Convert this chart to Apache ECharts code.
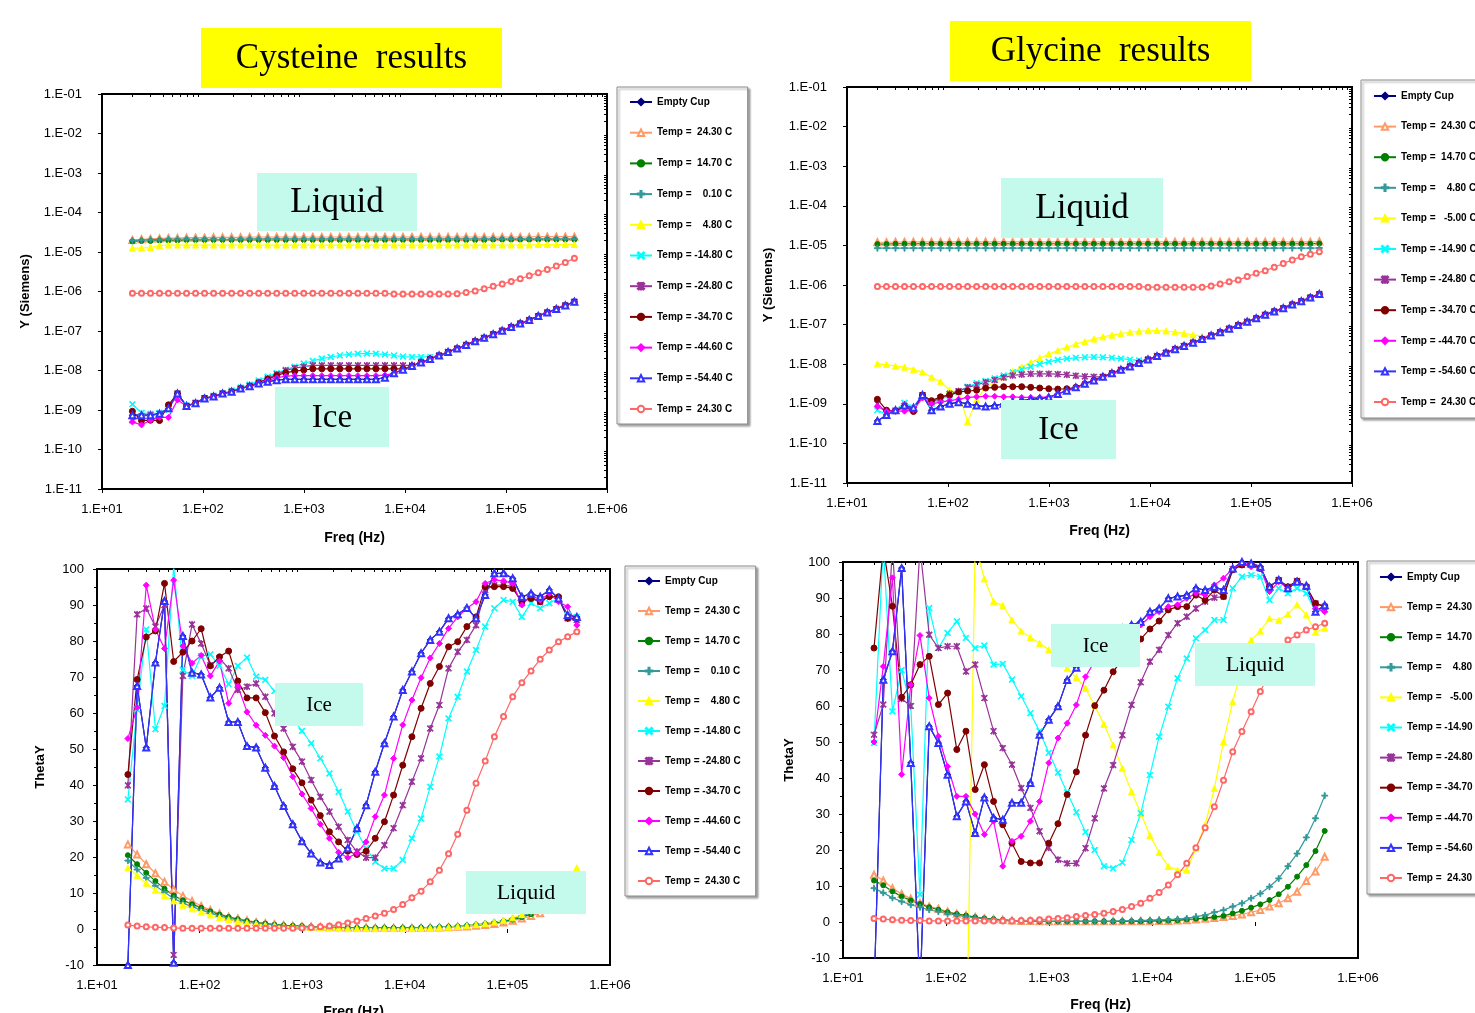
<!DOCTYPE html>
<html><head><meta charset="utf-8">
<script src="https://cdn.jsdelivr.net/npm/echarts@6/dist/echarts.min.js"></script>
<style>html,body{margin:0;padding:0;background:#fff}#c{width:1475px;height:1013px}</style>
</head><body><div id="c"></div><script>
// ---------------- DATA ----------------
const freq = [20,24.6,30.2,37.1,45.5,55.9,68.7,84.4,103.6,127.3,
156.3,192,235.8,289.7,355.8,437,536.8,659.3,809.8,994.7,
1222,1501,1843,2264,2781,3416,4195,5153,6330,7774,
9550,11730,14410,17700,21740,26700,32800,40290,49480,60780,
74650,91700,112600,138300,169900,208700,256300,314900,386700,475000];

const xTickValues = [10,100,1000,10000,100000,1000000];
const yTickValuesLog = [1e-11,1e-10,1e-9,1e-8,1e-7,1e-6,1e-5,1e-4,1e-3,1e-2,1e-1];

const cysNames = ['Empty Cup','Temp =  24.30 C','Temp =  14.70 C','Temp =    0.10 C','Temp =    4.80 C','Temp = -14.80 C','Temp = -24.80 C','Temp = -34.70 C','Temp = -44.60 C','Temp = -54.40 C','Temp =  24.30 C'];
const glyNames = ['Empty Cup','Temp =  24.30 C','Temp =  14.70 C','Temp =    4.80 C','Temp =   -5.00 C','Temp = -14.90 C','Temp = -24.80 C','Temp = -34.70 C','Temp = -44.70 C','Temp = -54.60 C','Temp =  24.30 C'];

// ---- Cysteine : Y (Siemens) ----
const cysY_empty = [7.4e-10,7.4e-10,7.4e-10,8.0e-10,1.1e-9,2.6e-9,1.26e-9,1.48e-9,1.95e-9,2.2e-9,
2.6e-9,2.9e-9,3.5e-9,4.0e-9,4.7e-9,5.2e-9,5.7e-9,6.0e-9,6.0e-9,6.0e-9,
6.0e-9,6.0e-9,6.0e-9,6.0e-9,6.0e-9,6.0e-9,6.0e-9,6.0e-9,6.6e-9,8.5e-9,
1.05e-8,1.3e-8,1.6e-8,1.95e-8,2.4e-8,2.95e-8,3.6e-8,4.45e-8,5.5e-8,6.7e-8,
8.3e-8,1.02e-7,1.26e-7,1.55e-7,1.9e-7,2.4e-7,2.95e-7,3.6e-7,4.45e-7,5.5e-7];
const cysY_p2430 = [2.0e-5,2.1e-5,2.15e-5,2.2e-5,2.25e-5,2.25e-5,2.3e-5,2.3e-5,2.3e-5,2.35e-5,
2.35e-5,2.35e-5,2.35e-5,2.4e-5,2.4e-5,2.4e-5,2.4e-5,2.4e-5,2.4e-5,2.4e-5,
2.4e-5,2.4e-5,2.4e-5,2.4e-5,2.4e-5,2.4e-5,2.4e-5,2.4e-5,2.4e-5,2.4e-5,
2.4e-5,2.4e-5,2.4e-5,2.4e-5,2.4e-5,2.4e-5,2.4e-5,2.4e-5,2.4e-5,2.4e-5,
2.4e-5,2.4e-5,2.4e-5,2.4e-5,2.4e-5,2.45e-5,2.45e-5,2.45e-5,2.45e-5,2.45e-5];
const cysY_p1470 = [1.85e-5,1.9e-5,1.9e-5,1.95e-5,1.95e-5,1.95e-5,2.0e-5,2.0e-5,2.0e-5,2.0e-5,
2.0e-5,2.0e-5,2.0e-5,2.0e-5,2.0e-5,2.0e-5,2.0e-5,2.0e-5,2.0e-5,2.0e-5,
2.0e-5,2.0e-5,2.0e-5,2.0e-5,2.0e-5,2.0e-5,2.0e-5,2.0e-5,2.0e-5,2.0e-5,
2.0e-5,2.0e-5,2.0e-5,2.0e-5,2.0e-5,2.0e-5,2.0e-5,2.0e-5,2.0e-5,2.0e-5,
2.05e-5,2.05e-5,2.05e-5,2.05e-5,2.05e-5,2.05e-5,2.05e-5,2.05e-5,2.05e-5,2.05e-5];
const cysY_p010 = [1.95e-5,2.0e-5,2.05e-5,2.05e-5,2.1e-5,2.1e-5,2.1e-5,2.1e-5,2.1e-5,2.1e-5,
2.1e-5,2.1e-5,2.1e-5,2.15e-5,2.15e-5,2.15e-5,2.15e-5,2.15e-5,2.15e-5,2.15e-5,
2.15e-5,2.15e-5,2.15e-5,2.15e-5,2.15e-5,2.15e-5,2.15e-5,2.15e-5,2.15e-5,2.15e-5,
2.15e-5,2.15e-5,2.15e-5,2.15e-5,2.15e-5,2.15e-5,2.15e-5,2.15e-5,2.15e-5,2.15e-5,
2.15e-5,2.15e-5,2.15e-5,2.15e-5,2.15e-5,2.15e-5,2.15e-5,2.15e-5,2.15e-5,2.15e-5];
const cysY_p480 = [1.25e-5,1.25e-5,1.3e-5,1.45e-5,1.5e-5,1.5e-5,1.5e-5,1.5e-5,1.5e-5,1.5e-5,
1.5e-5,1.5e-5,1.5e-5,1.5e-5,1.5e-5,1.5e-5,1.5e-5,1.5e-5,1.5e-5,1.5e-5,
1.5e-5,1.5e-5,1.5e-5,1.5e-5,1.5e-5,1.5e-5,1.5e-5,1.5e-5,1.5e-5,1.5e-5,
1.5e-5,1.5e-5,1.5e-5,1.5e-5,1.5e-5,1.5e-5,1.5e-5,1.5e-5,1.5e-5,1.5e-5,
1.5e-5,1.5e-5,1.5e-5,1.5e-5,1.5e-5,1.55e-5,1.55e-5,1.55e-5,1.55e-5,1.55e-5];
const cysY_m1480 = [1.4e-9,8.5e-10,8.0e-10,8.5e-10,1.0e-9,2.6e-9,1.3e-9,1.55e-9,2.0e-9,2.3e-9,
2.7e-9,3.1e-9,3.7e-9,4.4e-9,5.6e-9,7.0e-9,8.6e-9,1.05e-8,1.25e-8,1.5e-8,
1.75e-8,2.0e-8,2.2e-8,2.4e-8,2.55e-8,2.65e-8,2.7e-8,2.65e-8,2.55e-8,2.4e-8,
2.25e-8,2.2e-8,2.2e-8,2.2e-8,2.4e-8,2.95e-8,3.6e-8,4.45e-8,5.5e-8,6.7e-8,
8.3e-8,1.02e-7,1.26e-7,1.55e-7,1.9e-7,2.4e-7,2.95e-7,3.6e-7,4.45e-7,5.5e-7];
const cysY_m2480 = [5.5e-10,7.0e-10,7.4e-10,8.0e-10,1.1e-9,2.6e-9,1.26e-9,1.5e-9,2.0e-9,2.2e-9,
2.6e-9,2.9e-9,3.5e-9,4.1e-9,5.0e-9,6.3e-9,8.0e-9,1.0e-8,1.15e-8,1.25e-8,
1.35e-8,1.35e-8,1.35e-8,1.35e-8,1.35e-8,1.35e-8,1.35e-8,1.35e-8,1.35e-8,1.35e-8,
1.35e-8,1.35e-8,1.6e-8,1.95e-8,2.4e-8,2.95e-8,3.6e-8,4.45e-8,5.5e-8,6.7e-8,
8.3e-8,1.02e-7,1.26e-7,1.55e-7,1.9e-7,2.4e-7,2.95e-7,3.6e-7,4.45e-7,5.5e-7];
const cysY_m3470 = [9.3e-10,5.4e-10,5.5e-10,5.4e-10,1.35e-9,2.6e-9,1.26e-9,1.5e-9,2.0e-9,2.2e-9,
2.6e-9,2.9e-9,3.5e-9,4.0e-9,4.9e-9,6.0e-9,7.5e-9,8.8e-9,9.6e-9,1.03e-8,
1.1e-8,1.1e-8,1.1e-8,1.1e-8,1.1e-8,1.1e-8,1.1e-8,1.1e-8,1.1e-8,1.1e-8,
1.1e-8,1.3e-8,1.6e-8,1.95e-8,2.4e-8,2.95e-8,3.6e-8,4.45e-8,5.5e-8,6.7e-8,
8.3e-8,1.02e-7,1.26e-7,1.55e-7,1.9e-7,2.4e-7,2.95e-7,3.6e-7,4.45e-7,5.5e-7];
const cysY_m4460 = [5.0e-10,4.2e-10,5.5e-10,6.5e-10,6.5e-10,1.8e-9,1.26e-9,1.48e-9,1.95e-9,2.2e-9,
2.6e-9,2.9e-9,3.5e-9,4.0e-9,4.8e-9,5.6e-9,6.5e-9,7.2e-9,7.4e-9,7.4e-9,
7.4e-9,7.4e-9,7.4e-9,7.4e-9,7.4e-9,7.4e-9,7.4e-9,7.4e-9,7.6e-9,8.5e-9,
1.05e-8,1.3e-8,1.6e-8,1.95e-8,2.4e-8,2.95e-8,3.6e-8,4.45e-8,5.5e-8,6.7e-8,
8.3e-8,1.02e-7,1.26e-7,1.55e-7,1.9e-7,2.4e-7,2.95e-7,3.6e-7,4.45e-7,5.5e-7];
const cysY_m5440 = [7.4e-10,7.4e-10,7.4e-10,8.0e-10,1.1e-9,2.6e-9,1.26e-9,1.48e-9,1.95e-9,2.2e-9,
2.6e-9,2.9e-9,3.5e-9,4.0e-9,4.7e-9,5.2e-9,5.7e-9,6.0e-9,6.0e-9,6.0e-9,
6.0e-9,6.0e-9,6.0e-9,6.0e-9,6.0e-9,6.0e-9,6.0e-9,6.0e-9,6.6e-9,8.5e-9,
1.05e-8,1.3e-8,1.6e-8,1.95e-8,2.4e-8,2.95e-8,3.6e-8,4.45e-8,5.5e-8,6.7e-8,
8.3e-8,1.02e-7,1.26e-7,1.55e-7,1.9e-7,2.4e-7,2.95e-7,3.6e-7,4.45e-7,5.5e-7];
const cysY_r2430 = [9.0e-7,9.0e-7,9.0e-7,9.0e-7,9.0e-7,9.0e-7,9.0e-7,9.0e-7,9.0e-7,9.0e-7,
9.0e-7,9.0e-7,9.0e-7,9.0e-7,9.0e-7,9.0e-7,9.0e-7,9.0e-7,9.0e-7,9.0e-7,
9.0e-7,9.0e-7,9.0e-7,9.0e-7,9.0e-7,9.0e-7,9.0e-7,9.0e-7,9.0e-7,8.6e-7,
8.6e-7,8.6e-7,8.6e-7,8.6e-7,8.6e-7,8.6e-7,8.8e-7,9.4e-7,1.03e-6,1.18e-6,
1.35e-6,1.55e-6,1.8e-6,2.1e-6,2.5e-6,3.0e-6,3.6e-6,4.4e-6,5.4e-6,6.9e-6];

// ---- Glycine : Y (Siemens) ----
const glyY_empty = [3.7e-10,5.2e-10,6.9e-10,9.0e-10,8.0e-10,1.66e-9,6.9e-10,8.5e-10,1.0e-9,1.1e-9,
1.0e-9,9.0e-10,8.5e-10,9.0e-10,1.0e-9,1.1e-9,1.2e-9,1.3e-9,1.35e-9,1.45e-9,
1.77e-9,2.15e-9,2.6e-9,3.2e-9,3.9e-9,4.8e-9,5.9e-9,7.2e-9,8.8e-9,1.07e-8,
1.31e-8,1.6e-8,1.95e-8,2.4e-8,2.9e-8,3.5e-8,4.3e-8,5.3e-8,6.4e-8,7.9e-8,
9.7e-8,1.18e-7,1.44e-7,1.77e-7,2.15e-7,2.6e-7,3.2e-7,3.9e-7,4.8e-7,5.9e-7];
const glyY_p2430 = [1.2e-5,1.2e-5,1.22e-5,1.22e-5,1.23e-5,1.23e-5,1.23e-5,1.23e-5,1.23e-5,1.23e-5,
1.23e-5,1.23e-5,1.23e-5,1.23e-5,1.23e-5,1.23e-5,1.23e-5,1.23e-5,1.23e-5,1.23e-5,
1.23e-5,1.23e-5,1.23e-5,1.23e-5,1.23e-5,1.23e-5,1.23e-5,1.23e-5,1.23e-5,1.23e-5,
1.23e-5,1.23e-5,1.23e-5,1.23e-5,1.23e-5,1.23e-5,1.23e-5,1.23e-5,1.23e-5,1.23e-5,
1.23e-5,1.23e-5,1.23e-5,1.23e-5,1.23e-5,1.23e-5,1.23e-5,1.23e-5,1.23e-5,1.25e-5];
const glyY_p1470 = [1.08e-5,1.08e-5,1.1e-5,1.1e-5,1.1e-5,1.1e-5,1.1e-5,1.1e-5,1.1e-5,1.1e-5,
1.1e-5,1.1e-5,1.1e-5,1.1e-5,1.1e-5,1.1e-5,1.1e-5,1.1e-5,1.1e-5,1.1e-5,
1.1e-5,1.1e-5,1.1e-5,1.1e-5,1.1e-5,1.1e-5,1.1e-5,1.1e-5,1.1e-5,1.1e-5,
1.1e-5,1.1e-5,1.1e-5,1.1e-5,1.1e-5,1.1e-5,1.1e-5,1.1e-5,1.1e-5,1.1e-5,
1.1e-5,1.1e-5,1.1e-5,1.1e-5,1.1e-5,1.1e-5,1.1e-5,1.1e-5,1.1e-5,1.12e-5];
const glyY_p480 = [8.5e-6,8.5e-6,8.5e-6,8.5e-6,8.5e-6,8.5e-6,8.5e-6,8.5e-6,8.5e-6,8.5e-6,
8.5e-6,8.5e-6,8.5e-6,8.5e-6,8.5e-6,8.5e-6,8.5e-6,8.5e-6,8.5e-6,8.5e-6,
8.5e-6,8.5e-6,8.5e-6,8.5e-6,8.5e-6,8.5e-6,8.5e-6,8.5e-6,8.5e-6,8.5e-6,
8.5e-6,8.5e-6,8.5e-6,8.5e-6,8.5e-6,8.5e-6,8.5e-6,8.5e-6,8.5e-6,8.5e-6,
8.5e-6,8.5e-6,8.5e-6,8.5e-6,8.5e-6,8.5e-6,8.5e-6,8.5e-6,8.5e-6,8.6e-6];
const glyY_m500 = [1.02e-8,9.8e-9,8.9e-9,8.4e-9,7.3e-9,6.3e-9,4.7e-9,3.6e-9,2.2e-9,1.9e-9,
3.5e-10,1.26e-9,2.7e-9,3.5e-9,4.8e-9,6.5e-9,8.5e-9,1.1e-8,1.4e-8,1.8e-8,
2.2e-8,2.7e-8,3.2e-8,3.7e-8,4.3e-8,4.9e-8,5.4e-8,5.9e-8,6.4e-8,6.8e-8,
7.0e-8,7.1e-8,6.9e-8,6.5e-8,6.0e-8,5.5e-8,5.1e-8,5.3e-8,6.4e-8,7.9e-8,
9.7e-8,1.18e-7,1.44e-7,1.77e-7,2.15e-7,2.6e-7,3.2e-7,3.9e-7,4.8e-7,5.9e-7];
const glyY_m1490 = [6.9e-10,5.5e-10,7.0e-10,1.06e-9,8.0e-10,1.66e-9,1.0e-9,1.3e-9,1.6e-9,2.0e-9,
2.7e-9,3.3e-9,3.8e-9,4.4e-9,5.2e-9,6.2e-9,7.4e-9,8.6e-9,1.0e-8,1.15e-8,
1.28e-8,1.38e-8,1.45e-8,1.5e-8,1.52e-8,1.5e-8,1.45e-8,1.38e-8,1.3e-8,1.25e-8,
1.31e-8,1.6e-8,1.95e-8,2.4e-8,2.9e-8,3.5e-8,4.3e-8,5.3e-8,6.4e-8,7.9e-8,
9.7e-8,1.18e-7,1.44e-7,1.77e-7,2.15e-7,2.6e-7,3.2e-7,3.9e-7,4.8e-7,5.9e-7];
const glyY_m2480 = [1.0e-9,6.0e-10,6.6e-10,9.0e-10,7.0e-10,1.66e-9,1.1e-9,1.4e-9,1.8e-9,2.1e-9,
2.6e-9,3.0e-9,3.5e-9,4.0e-9,4.6e-9,5.2e-9,5.5e-9,5.7e-9,5.7e-9,5.7e-9,
5.6e-9,5.4e-9,5.1e-9,4.9e-9,4.8e-9,4.8e-9,5.9e-9,7.2e-9,8.8e-9,1.07e-8,
1.31e-8,1.6e-8,1.95e-8,2.4e-8,2.9e-8,3.5e-8,4.3e-8,5.3e-8,6.4e-8,7.9e-8,
9.7e-8,1.18e-7,1.44e-7,1.77e-7,2.15e-7,2.6e-7,3.2e-7,3.9e-7,4.8e-7,5.9e-7];
const glyY_m3470 = [1.3e-9,6.9e-10,6.6e-10,8.5e-10,6.4e-10,1.66e-9,1.2e-9,1.5e-9,1.66e-9,2.0e-9,
2.1e-9,2.2e-9,2.5e-9,2.6e-9,2.7e-9,2.7e-9,2.7e-9,2.6e-9,2.5e-9,2.4e-9,
2.35e-9,2.4e-9,2.6e-9,3.2e-9,3.9e-9,4.8e-9,5.9e-9,7.2e-9,8.8e-9,1.07e-8,
1.31e-8,1.6e-8,1.95e-8,2.4e-8,2.9e-8,3.5e-8,4.3e-8,5.3e-8,6.4e-8,7.9e-8,
9.7e-8,1.18e-7,1.44e-7,1.77e-7,2.15e-7,2.6e-7,3.2e-7,3.9e-7,4.8e-7,5.9e-7];
const glyY_m4470 = [8.5e-10,6.5e-10,6.6e-10,6.5e-10,7.0e-10,1.4e-9,1.0e-9,1.1e-9,1.2e-9,1.3e-9,
1.45e-9,1.5e-9,1.55e-9,1.55e-9,1.5e-9,1.5e-9,1.45e-9,1.45e-9,1.45e-9,1.5e-9,
1.77e-9,2.15e-9,2.6e-9,3.2e-9,3.9e-9,4.8e-9,5.9e-9,7.2e-9,8.8e-9,1.07e-8,
1.31e-8,1.6e-8,1.95e-8,2.4e-8,2.9e-8,3.5e-8,4.3e-8,5.3e-8,6.4e-8,7.9e-8,
9.7e-8,1.18e-7,1.44e-7,1.77e-7,2.15e-7,2.6e-7,3.2e-7,3.9e-7,4.8e-7,5.9e-7];
const glyY_m5460 = [3.7e-10,5.2e-10,6.9e-10,9.0e-10,8.0e-10,1.66e-9,6.9e-10,8.5e-10,1.0e-9,1.1e-9,
1.0e-9,9.0e-10,8.5e-10,9.0e-10,1.0e-9,1.1e-9,1.2e-9,1.3e-9,1.35e-9,1.45e-9,
1.77e-9,2.15e-9,2.6e-9,3.2e-9,3.9e-9,4.8e-9,5.9e-9,7.2e-9,8.8e-9,1.07e-8,
1.31e-8,1.6e-8,1.95e-8,2.4e-8,2.9e-8,3.5e-8,4.3e-8,5.3e-8,6.4e-8,7.9e-8,
9.7e-8,1.18e-7,1.44e-7,1.77e-7,2.15e-7,2.6e-7,3.2e-7,3.9e-7,4.8e-7,5.9e-7];
const glyY_r2430 = [9.1e-7,9.1e-7,9.1e-7,9.1e-7,9.1e-7,9.1e-7,9.1e-7,9.1e-7,9.1e-7,9.1e-7,
9.1e-7,9.1e-7,9.1e-7,9.1e-7,9.1e-7,9.1e-7,9.1e-7,9.1e-7,9.1e-7,9.1e-7,
9.1e-7,9.1e-7,9.1e-7,9.1e-7,9.1e-7,9.1e-7,9.1e-7,9.1e-7,9.1e-7,9.1e-7,
8.8e-7,8.8e-7,8.8e-7,8.8e-7,8.8e-7,8.8e-7,8.8e-7,9.4e-7,1.06e-6,1.2e-6,
1.34e-6,1.63e-6,1.98e-6,2.3e-6,2.8e-6,3.5e-6,4.3e-6,5.2e-6,6.0e-6,6.9e-6];

// ---- Cysteine : ThetaY (deg) ----
const cysT_empty = [-10,67.5,50.4,74.0,91.1,-9.4,81.4,71.2,70.7,64.3,
67.0,57.5,57.5,50.8,50.4,44.8,39.7,34.2,29.1,24.4,
21.0,18.5,17.8,19.6,22.4,28.0,34.4,43.7,51.6,59.0,
66.4,71.5,76.6,80.3,82.6,86.3,87.4,89.2,86.3,92.8,
98.8,98.8,97.4,92.3,93.2,92.3,94.2,91.8,87.2,86.7];
const cysT_p2430 = [23.5,20.7,18.0,15.5,13.1,11.0,9.2,7.8,6.4,5.3,
4.3,3.4,2.9,2.4,1.9,1.6,1.3,1.1,0.9,0.8,
0.7,0.6,0.5,0.5,0.4,0.4,0.4,0.3,0.3,0.3,
0.3,0.3,0.3,0.4,0.4,0.5,0.6,0.7,0.9,1.1,
1.4,1.8,2.3,2.9,3.6,4.4,5.3,6.4,7.7,9.2];
const cysT_p1470 = [20.5,18.0,15.6,13.3,11.2,9.3,8.0,6.9,5.9,4.9,
4.0,3.3,2.7,2.2,1.8,1.5,1.2,1.0,0.9,0.8,
0.6,0.5,0.5,0.4,0.4,0.3,0.3,0.3,0.3,0.3,
0.3,0.3,0.4,0.4,0.5,0.6,0.7,0.9,1.1,1.4,
1.7,2.1,2.6,3.3,4.1,5.1,6.3,7.7,9.4,11.4];
const cysT_p010 = [19.0,16.5,14.2,12.0,10.2,8.5,7.2,6.2,5.3,4.4,
3.6,3.0,2.5,2.0,1.6,1.3,1.1,0.9,0.8,0.7,
0.6,0.5,0.4,0.4,0.3,0.3,0.3,0.3,0.3,0.3,
0.3,0.3,0.4,0.4,0.5,0.6,0.8,1.0,1.2,1.5,
1.9,2.3,2.9,3.6,4.5,5.6,6.9,8.5,10.4,12.7];
const cysT_p480 = [17.0,14.9,12.7,10.8,9.2,7.8,6.6,5.6,4.7,3.9,
3.2,2.6,2.1,1.7,1.4,1.1,0.9,0.7,0.6,0.5,
0.4,0.3,0.2,0.2,0.1,0.1,0.1,0.1,0.1,0.1,
0.1,0.1,0.2,0.3,0.4,0.5,0.7,0.9,1.2,1.5,
1.9,2.4,3.1,4.0,5.1,6.6,8.5,10.9,13.7,17.0];
const cysT_m1480 = [36.0,61.0,83.2,55.5,62.0,100.8,72.0,70.3,75.8,76.3,
73.1,68.0,73.1,75.4,70.1,69.2,66.1,62.0,58.5,55.0,
51.6,47.4,43.2,38.1,32.6,27.0,22.4,18.7,16.8,16.8,
19.2,25.2,30.7,39.5,47.9,58.5,64.5,71.5,77.5,84.0,
89.1,91.4,90.9,86.7,90.5,89.1,90.5,91.8,87.2,86.7];
const cysT_m2480 = [39.9,87.4,89.0,84.0,90.0,-7.2,70.3,84.6,79.3,73.3,
75.2,72.4,66.4,67.3,68.2,64.5,59.9,55.7,50.6,46.5,
41.4,36.7,32.6,28.4,24.7,21.5,19.8,19.8,23.3,28.0,
34.4,40.9,47.4,55.7,62.2,72.4,77.0,80.3,84.4,94.2,
95.5,95.5,95.1,90.5,92.3,90.9,92.8,91.8,86.3,85.8];
const cysT_m3470 = [42.9,69.3,81.1,82.8,96.0,74.3,76.9,80.0,83.4,73.1,
75.6,77.2,68.9,64.2,64.2,60.1,53.6,49.2,44.5,40.6,
35.8,31.5,27.0,24.2,21.6,20.7,21.6,25.2,29.8,37.2,
45.5,53.4,61.3,68.2,72.9,78.4,79.8,84.0,86.7,95.1,
95.1,95.1,94.6,90.9,91.8,90.9,92.3,92.3,86.3,86.3];
const cysT_m4460 = [52.9,61.5,95.5,83.2,77.9,96.9,78.6,73.8,76.0,70.3,
74.4,62.7,67.5,60.3,56.6,53.8,50.8,47.6,42.3,37.5,
33.5,29.1,25.2,21.3,19.8,21.0,24.2,31.2,37.2,47.4,
56.7,63.6,69.8,75.3,79.3,83.5,86.7,89.1,90.9,96.0,
97.0,96.7,96.0,90.0,92.8,91.4,93.2,90.9,89.5,84.4];
const cysT_m5440 = [-10,67.5,50.4,74.0,91.1,-9.4,81.4,71.2,70.7,64.3,
67.0,57.5,57.5,50.8,50.4,44.8,39.7,34.2,29.1,24.4,
21.0,18.5,17.8,19.6,22.4,28.0,34.4,43.7,51.6,59.0,
66.4,71.5,76.6,80.3,82.6,86.3,87.4,89.2,86.3,92.8,
98.8,98.8,97.4,92.3,93.2,92.3,94.2,91.8,87.2,86.7];
const cysT_r2430 = [1.1,0.8,0.6,0.5,0.4,0.3,0.2,0.2,0.2,0.2,
0.2,0.2,0.2,0.2,0.2,0.2,0.2,0.2,0.2,0.3,
0.4,0.6,0.8,1.2,1.7,2.2,2.9,3.6,4.4,5.4,
6.8,8.7,10.5,13.1,16.3,20.9,26.3,33.0,40.5,46.7,
53.4,59.0,64.5,68.4,71.7,74.9,77.5,79.8,81.2,82.6];

// ---- Glycine : ThetaY (deg) ----
const glyT_empty = [-20,67.3,75.2,98.3,44.2,-20,54.4,49.7,40.9,29.4,
33.5,24.7,34.6,28.9,28.4,33.1,33.1,38.6,52.0,56.2,
59.9,67.2,70.6,73.5,76.0,78.0,80.0,81.5,82.5,83.4,
86.2,87.1,89.9,90.4,90.8,92.7,92.2,93.1,92.2,98.2,
100.0,99.6,98.7,93.1,95.0,92.7,94.5,93.4,86.2,88.0];
const glyT_p2430 = [13.1,11.5,9.4,7.8,6.5,5.3,4.3,3.7,2.9,2.3,
1.9,1.4,1.0,0.8,0.6,0.4,0.3,0.3,0.2,0.2,
0.2,0.2,0.2,0.2,0.2,0.2,0.2,0.2,0.2,0.2,
0.2,0.3,0.3,0.4,0.5,0.7,0.9,1.1,1.4,1.7,
2.1,2.7,3.3,4.3,5.2,6.6,8.4,11.4,14.0,18.1];
const glyT_p1470 = [11.5,10.2,8.5,7.1,6.0,5.0,4.1,3.4,2.7,2.2,
1.8,1.3,1.0,0.8,0.6,0.4,0.3,0.3,0.2,0.2,
0.2,0.2,0.2,0.2,0.2,0.2,0.2,0.2,0.2,0.2,
0.3,0.3,0.4,0.5,0.7,0.9,1.1,1.4,1.7,2.4,
3.1,4.0,4.9,6.1,7.7,9.8,12.6,15.8,19.7,25.3];
const glyT_p480 = [9.4,8.1,6.7,5.7,4.8,4.1,3.4,2.9,2.3,1.9,
1.5,1.2,0.9,0.7,0.5,0.4,0.3,0.3,0.2,0.2,
0.2,0.2,0.2,0.2,0.2,0.2,0.2,0.3,0.3,0.4,
0.5,0.6,0.7,0.8,1.0,1.5,1.9,2.7,3.3,4.3,
5.2,6.6,7.9,9.8,12.1,15.5,19.0,23.5,28.8,35.1];
const glyT_m500 = [-60,-60,-60,-60,-60,-60,-60,-60,-60,-60,
-45,105,95.3,89.0,87.9,83.9,80.8,79.0,77.4,75.6,
73.0,70.5,67.9,64.9,60.0,54.9,49.2,42.7,36.2,30.2,
24.0,19.3,15.4,14.4,14.4,20.5,27.0,37.1,50.1,61.2,
70.5,78.3,80.8,84.3,83.8,85.5,88.1,85.3,80.5,81.6];
const glyT_m1490 = [49.7,105,58.5,70.0,60.0,7.6,87.2,76.1,80.3,83.5,
78.9,76.1,76.8,71.5,71.7,67.3,62.7,58.0,53.0,47.0,
41.5,36.0,30.5,25.0,20.0,15.5,14.9,16.5,22.8,30.2,
40.8,51.5,59.8,67.7,73.2,78.8,81.1,83.9,83.9,92.7,
95.9,96.4,95.9,89.4,92.7,91.3,92.7,91.3,86.2,86.7];
const glyT_m2480 = [52.0,60.4,104,62.0,60.0,104,79.8,76.1,76.6,76.6,
69.6,71.5,62.2,53.0,48.3,43.7,37.2,31.7,25.2,20.6,
17.3,16.3,16.3,20.5,28.8,37.1,43.6,51.9,60.3,66.6,
72.3,75.6,79.7,83.0,84.8,87.1,89.0,90.1,90.4,98.0,
99.2,99.2,98.2,93.1,95.0,93.1,94.7,93.1,88.5,87.6];
const glyT_m3470 = [76.1,104,87.7,62.4,65.9,71.5,73.8,60.4,63.6,47.9,
53.0,36.8,43.7,33.5,27.0,21.9,16.8,16.4,16.4,21.9,
27.3,35.4,41.7,51.9,60.1,64.4,69.5,73.0,76.0,78.6,
81.4,83.6,86.7,87.6,87.6,90.8,89.4,92.2,90.4,97.8,
99.2,99.2,98.2,93.1,95.0,93.1,94.7,93.1,88.5,87.6];
const glyT_m4470 = [50.0,71.0,95.6,41.0,65.9,79.6,62.2,51.6,43.2,34.9,
34.9,30.0,24.3,28.0,15.5,22.4,23.8,28.0,33.5,44.2,
51.1,55.2,60.3,68.1,72.5,76.0,78.5,80.5,81.5,82.5,
84.8,86.2,87.6,88.1,89.9,91.3,90.8,93.6,95.5,98.2,
99.6,98.7,98.2,91.8,94.5,92.7,94.5,93.1,87.1,86.2];
const glyT_m5460 = [-20,67.3,75.2,98.3,44.2,-20,54.4,49.7,40.9,29.4,
33.5,24.7,34.6,28.9,28.4,33.1,33.1,38.6,52.0,56.2,
59.9,67.2,70.6,73.5,76.0,78.0,80.0,81.5,82.5,83.4,
86.2,87.1,89.9,90.4,90.8,92.7,92.2,93.1,92.2,98.2,
100.0,99.6,98.7,93.1,95.0,92.7,94.5,93.4,86.2,88.0];
const glyT_r2430 = [1.0,0.8,0.6,0.5,0.4,0.4,0.3,0.3,0.3,0.3,
0.3,0.3,0.3,0.3,0.3,0.3,0.4,0.5,0.6,0.8,
1.0,1.2,1.5,1.8,2.1,2.4,2.9,3.5,4.3,5.2,
6.6,8.2,10.3,13.1,16.3,20.6,26.2,32.0,39.4,47.3,
52.9,58.4,64.0,69.1,74.2,78.3,79.7,81.1,82.0,83.0];

// ---------------- BUILD ----------------
const panels = [
  {names: cysNames, data: [cysY_empty,cysY_p2430,cysY_p1470,cysY_p010,cysY_p480,cysY_m1480,cysY_m2480,cysY_m3470,cysY_m4460,cysY_m5440,cysY_r2430]},
  {names: glyNames, data: [glyY_empty,glyY_p2430,glyY_p1470,glyY_p480,glyY_m500,glyY_m1490,glyY_m2480,glyY_m3470,glyY_m4470,glyY_m5460,glyY_r2430]},
  {names: cysNames, data: [cysT_empty,cysT_p2430,cysT_p1470,cysT_p010,cysT_p480,cysT_m1480,cysT_m2480,cysT_m3470,cysT_m4460,cysT_m5440,cysT_r2430]},
  {names: glyNames, data: [glyT_empty,glyT_p2430,glyT_p1470,glyT_p480,glyT_m500,glyT_m1490,glyT_m2480,glyT_m3470,glyT_m4470,glyT_m5460,glyT_r2430]}
];

const PLUS = 'path://M4.2,0H5.8V10H4.2ZM0,4.2H10V5.8H0Z';
const XMARK = 'path://M0,1.1L1.1,0L10,8.9L8.9,10ZM8.9,0L10,1.1L1.1,10L0,8.9Z';
const STAR = 'path://M0,1.1L1.1,0L10,8.9L8.9,10ZM8.9,0L10,1.1L1.1,10L0,8.9ZM4.3,0H5.7V10H4.3Z';
const looks = [
  {c:'#000080', s:'diamond', z:6},
  {c:'#ff9966', s:'emptyTriangle', z:6},
  {c:'#008000', s:'circle', z:5},
  {c:'#339999', s:PLUS, z:6},
  {c:'#ffff00', s:'triangle', z:6},
  {c:'#00ffff', s:XMARK, z:6},
  {c:'#993399', s:STAR, z:6},
  {c:'#800000', s:'circle', z:6},
  {c:'#ff00ff', s:'diamond', z:6},
  {c:'#3333ff', s:'emptyTriangle', z:6},
  {c:'#ff6666', s:'emptyCircle', z:5}
];

const FONT = '"Liberation Sans", Arial, sans-serif';
const grids = [
  {left:102, top:94, width:505, height:395},
  {left:847, top:87, width:505, height:396},
  {left:97, top:569, width:513, height:396},
  {left:843, top:562, width:515, height:396}
];
const xNameGap = [42, 41, 40, 40];
const yNameGap = [70, 72, 50, 47];
const yLabelMargin = [20, 20, 13, 13];

const xMinor = []; for (let k=1;k<6;k++) for (let m=2;m<10;m++) xMinor.push(m*Math.pow(10,k));
const yMinor = []; for (let k=-11;k<-1;k++) for (let m=2;m<10;m++) yMinor.push(m*Math.pow(10,k));

const expLabel = (v) => { const e = Math.round(Math.log10(v)); return '1.E' + (e<0?'-':'+') + String(Math.abs(e)).padStart(2,'0'); };

const xAxis = [], yAxis = [], series = [], legend = [];
grids.forEach((g, gi) => {
  xAxis.push({type:'log', logBase:10, gridIndex:gi, min:10, max:1e6,
    axisLine:{show:false},
    axisTick:{show:true, inside:false, length:4, lineStyle:{color:'#000'}, customValues:xTickValues},
    axisLabel:{customValues:xTickValues, formatter:v=>expLabel(v), color:'#000', fontSize:13, fontFamily:FONT, margin:14},
    splitLine:{show:false},
    name:'Freq (Hz)', nameLocation:'middle', nameGap:xNameGap[gi],
    nameTextStyle:{fontWeight:'bold', fontSize:14, color:'#000', fontFamily:FONT}});
  if (gi < 2) {
    yAxis.push({type:'log', logBase:10, gridIndex:gi, min:1e-11, max:1e-1,
      axisLine:{show:false},
      axisTick:{show:true, inside:false, length:4, lineStyle:{color:'#000'}, customValues:yTickValuesLog},
      axisLabel:{customValues:yTickValuesLog, formatter:v=>expLabel(v), color:'#000', fontSize:13, fontFamily:FONT, margin:yLabelMargin[gi]},
      splitLine:{show:false},
      name:'Y (Siemens)', nameLocation:'middle', nameGap:yNameGap[gi],
      nameTextStyle:{fontWeight:'bold', fontSize:13, color:'#000', fontFamily:FONT}});
  } else {
    yAxis.push({type:'value', gridIndex:gi, min:-10, max:100, interval:10,
      axisLine:{show:false},
      axisTick:{show:true, inside:false, length:4, lineStyle:{color:'#000'}},
      minorTick:{show:true, splitNumber:2, length:3, lineStyle:{color:'#000'}},
      axisLabel:{color:'#000', fontSize:13, fontFamily:FONT, margin:yLabelMargin[gi]},
      splitLine:{show:false},
      name:'ThetaY', nameLocation:'middle', nameGap:yNameGap[gi],
      nameTextStyle:{fontWeight:'bold', fontSize:13, color:'#000', fontFamily:FONT}});
  }
});
// minor tick overlay axes
grids.forEach((g, gi) => {
  xAxis.push({type:'log', logBase:10, gridIndex:gi, min:10, max:1e6,
    axisLine:{show:false}, splitLine:{show:false},
    axisLabel:{show:false, customValues:xMinor},
    axisTick:{show:true, inside:true, length:3, lineStyle:{color:'#000'}, customValues:xMinor}});
});
[0,1].forEach(gi => {
  yAxis.push({type:'log', logBase:10, gridIndex:gi, min:1e-11, max:1e-1,
    axisLine:{show:false}, splitLine:{show:false},
    axisLabel:{show:false, customValues:yMinor},
    axisTick:{show:true, inside:true, length:3, lineStyle:{color:'#000'}, customValues:yMinor}});
});

const legendPos = [
  {left:617, top:87, pad:[9,15,9,12], gap:18.7},
  {left:1361, top:80, pad:[10,15,10,12], gap:18.6},
  {left:625, top:566, pad:[9,15,9,12], gap:18.0},
  {left:1367, top:561, pad:[10,15,10,12], gap:18.1}
];

let bad = [];
panels.forEach((p, gi) => {
  const names = [];
  p.data.forEach((arr, si) => {
    if (arr.length !== freq.length) bad.push(gi+':'+si+'='+arr.length);
    const nm = gi + '|' + si + '|' + p.names[si];
    names.push(nm);
    const L = looks[si];
    series.push({
      type:'line', name:nm, xAxisIndex:gi, yAxisIndex:gi,
      data: freq.map((f,i)=>[f, arr[i]]),
      symbol:L.s, symbolSize:L.z, showSymbol:true,
      lineStyle:{color:L.c, width:1.2},
      itemStyle:{color:L.c, borderColor:L.c, borderWidth:1},
      clip:true, animation:false, emphasis:{disabled:true}
    });
  });
  const lp = legendPos[gi];
  legend.push({orient:'vertical', left:lp.left, top:lp.top, padding:lp.pad, itemGap:lp.gap,
    itemWidth:22, itemHeight:8, selectedMode:false,
    borderColor:'#8a8a8a', borderWidth:1, backgroundColor:'#fff',
    shadowColor:'rgba(0,0,0,0.35)', shadowOffsetX:2, shadowOffsetY:2, shadowBlur:2,
    textStyle:{fontSize:10, fontWeight:'bold', fontFamily:FONT, color:'#000', lineHeight:12},
    data:names, formatter:n=>n.split('|')[2]});
});

function box(x, y, w, h, fill, text, size) {
  return {type:'group', left:x, top:y, z:100, children:[
    {type:'rect', shape:{x:0,y:0,width:w,height:h}, style:{fill:fill}, z:100},
    {type:'text', x:w/2, y:h/2+1, z:101, style:{text:text, fill:'#000', font:size+'px "Liberation Serif", "Times New Roman", serif', align:'center', verticalAlign:'middle'}}
  ]};
}
const AQUA = '#c3faec';
const graphic = [
  box(201, 28, 301, 60, '#ffff00', 'Cysteine  results', 35),
  box(950, 21, 301, 60, '#ffff00', 'Glycine  results', 35),
  box(257, 173, 160, 58, AQUA, 'Liquid', 35),
  box(275, 387, 114, 60, AQUA, 'Ice', 33),
  box(1001, 178, 162, 60, AQUA, 'Liquid', 35),
  box(1001, 400, 115, 59, AQUA, 'Ice', 33),
  box(275, 683, 88, 43, AQUA, 'Ice', 21),
  box(466, 871, 120, 43, AQUA, 'Liquid', 22),
  box(1051, 624, 89, 43, AQUA, 'Ice', 21),
  box(1195, 643, 120, 43, AQUA, 'Liquid', 22)
];
if (bad.length) graphic.push({type:'text', left:10, top:10, z:200, style:{text:'LEN '+bad.join(' '), fill:'red', font:'14px sans-serif'}});

const option = {
  animation:false,
  backgroundColor:'#fff',
  grid: grids.map(g=>Object.assign({show:true, borderColor:'#000', borderWidth:2, backgroundColor:'transparent', containLabel:false, outerBoundsMode:'none'}, g)),
  xAxis, yAxis, series, legend, graphic
};
const chart = echarts.init(document.getElementById('c'), null, {renderer:'canvas'});
chart.setOption(option);
</script></body></html>
